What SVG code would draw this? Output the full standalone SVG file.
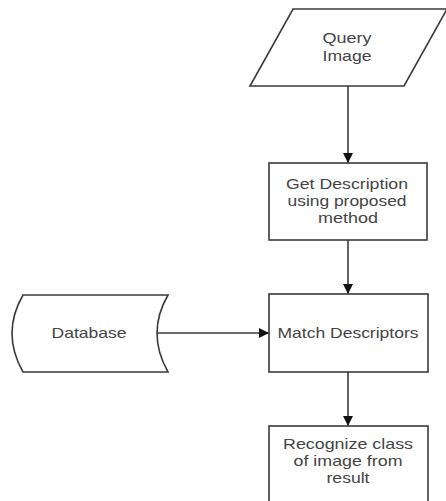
<svg xmlns="http://www.w3.org/2000/svg" width="446" height="501" viewBox="0 0 446 501">
<defs>
<style>
.shape{fill:#fff;stroke:#3a3a3a;stroke-width:1.6}
.conn{fill:none;stroke:#3a3a3a;stroke-width:1.6}
text{font-family:"Liberation Sans",Arial,sans-serif;font-size:15px;fill:#444;text-anchor:middle}
</style>
<marker id="arr" viewBox="0 0 10 10" refX="10" refY="5" markerWidth="10" markerHeight="10" markerUnits="userSpaceOnUse" orient="auto">
<path d="M0,0 L10,5 L0,10 Z" fill="#111"/>
</marker>
</defs>
<rect width="446" height="501" fill="#fff"/>
<g id="connectors">
<line class="conn" x1="348" y1="86" x2="348" y2="163" marker-end="url(#arr)"/>
<line class="conn" x1="348" y1="240" x2="348" y2="294" marker-end="url(#arr)"/>
<line class="conn" x1="157" y1="333" x2="269" y2="333" marker-end="url(#arr)"/>
<line class="conn" x1="348" y1="372" x2="348" y2="426" marker-end="url(#arr)"/>
</g>
<g id="query">
<path class="shape" d="M293,9 L447,9 L404,86 L250,86 Z"/>
<text x="347" y="43" textLength="49" lengthAdjust="spacingAndGlyphs">Query</text>
<text x="347" y="61" textLength="49" lengthAdjust="spacingAndGlyphs">Image</text>
</g>
<g id="describe">
<rect class="shape" x="269" y="163" width="158" height="77"/>
<text x="347" y="189" textLength="122" lengthAdjust="spacingAndGlyphs">Get Description</text>
<text x="347" y="206" textLength="119" lengthAdjust="spacingAndGlyphs">using proposed</text>
<text x="348" y="223" textLength="60" lengthAdjust="spacingAndGlyphs">method</text>
</g>
<g id="database">
<path class="shape" d="M23,295 L168,295 Q146,333 168,372 L23,372 Q1,333 23,295 Z"/>
<text x="89" y="338" textLength="75" lengthAdjust="spacingAndGlyphs">Database</text>
</g>
<g id="match">
<rect class="shape" x="269" y="294" width="159" height="78"/>
<text x="348" y="338" textLength="141" lengthAdjust="spacingAndGlyphs">Match Descriptors</text>
</g>
<g id="recognize">
<rect class="shape" x="269" y="426" width="159" height="80"/>
<text x="348" y="449" textLength="130" lengthAdjust="spacingAndGlyphs">Recognize class</text>
<text x="348" y="466" textLength="109" lengthAdjust="spacingAndGlyphs">of image from</text>
<text x="348" y="483" textLength="43" lengthAdjust="spacingAndGlyphs">result</text>
</g>
</svg>
